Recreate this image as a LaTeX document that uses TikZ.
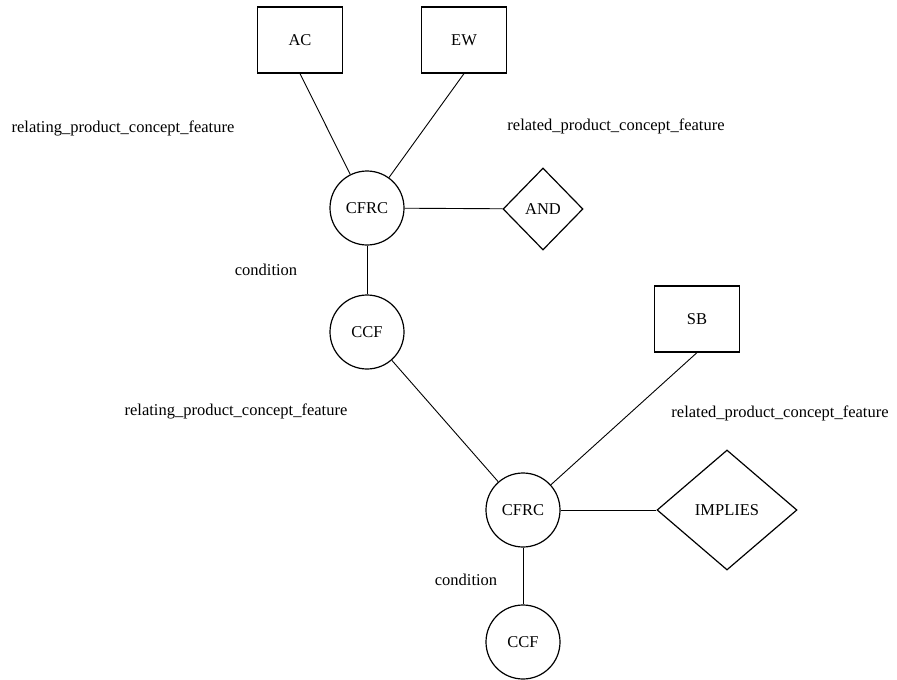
\documentclass[tikz,border=0pt]{standalone}
\usepackage{fontspec}
\setmainfont{Liberation Serif}
\usetikzlibrary{shapes.geometric}
\begin{document}
\begin{tikzpicture}[x=1pt,y=-1pt,
  every node/.style={font=\fontsize{16.5}{18}\selectfont},
  ent/.style={draw,line width=1.2pt,rectangle,minimum width=85pt,minimum height=66pt,inner sep=0pt},
  rel/.style={draw,line width=1.2pt,circle,minimum size=74pt,inner sep=0pt},
  op/.style={draw,line width=1.2pt,diamond,inner sep=0pt},
  lbl/.style={inner sep=0pt},
  conn/.style={line width=0.9pt}]
\useasboundingbox (0,0) rectangle (897,680);
\node[ent] (AC) at (300,40) {AC};
\node[ent] (EW) at (464,40) {EW};
\node[rel] (CFRC1) at (367,208) {CFRC};
\node[op,minimum width=80pt,minimum height=82pt] (AND) at (543,209) {AND};
\node[rel] (CCF1) at (367,332) {CCF};
\node[ent] (SB) at (697,319) {SB};
\node[rel] (CFRC2) at (523,510) {CFRC};
\node[op,minimum width=140pt,minimum height=120pt] (IMP) at (727,510) {IMPLIES};
\node[rel] (CCF2) at (523,642) {CCF};

\node[lbl] (l1) at (123,128) {relating\_product\_concept\_feature};
\node[lbl] (l2) at (616,126) {related\_product\_concept\_feature};
\node[lbl] (l3) at (266,270) {condition};
\node[lbl] (l4) at (236,411) {relating\_product\_concept\_feature};
\node[lbl] (l5) at (780,413) {related\_product\_concept\_feature};
\node[lbl] (l6) at (466,580) {condition};

\draw[conn] (AC.south) -- (CFRC1);
\draw[conn] (EW.south) -- (CFRC1);
\draw[conn] (CFRC1) -- (AND);
\draw[conn] (CFRC1) -- (CCF1);
\draw[conn] (CCF1) -- (CFRC2);
\draw[conn] (SB.south) -- (CFRC2);
\draw[conn] (CFRC2) -- (IMP);
\draw[conn] (CFRC2) -- (CCF2);
\end{tikzpicture}
\end{document}
